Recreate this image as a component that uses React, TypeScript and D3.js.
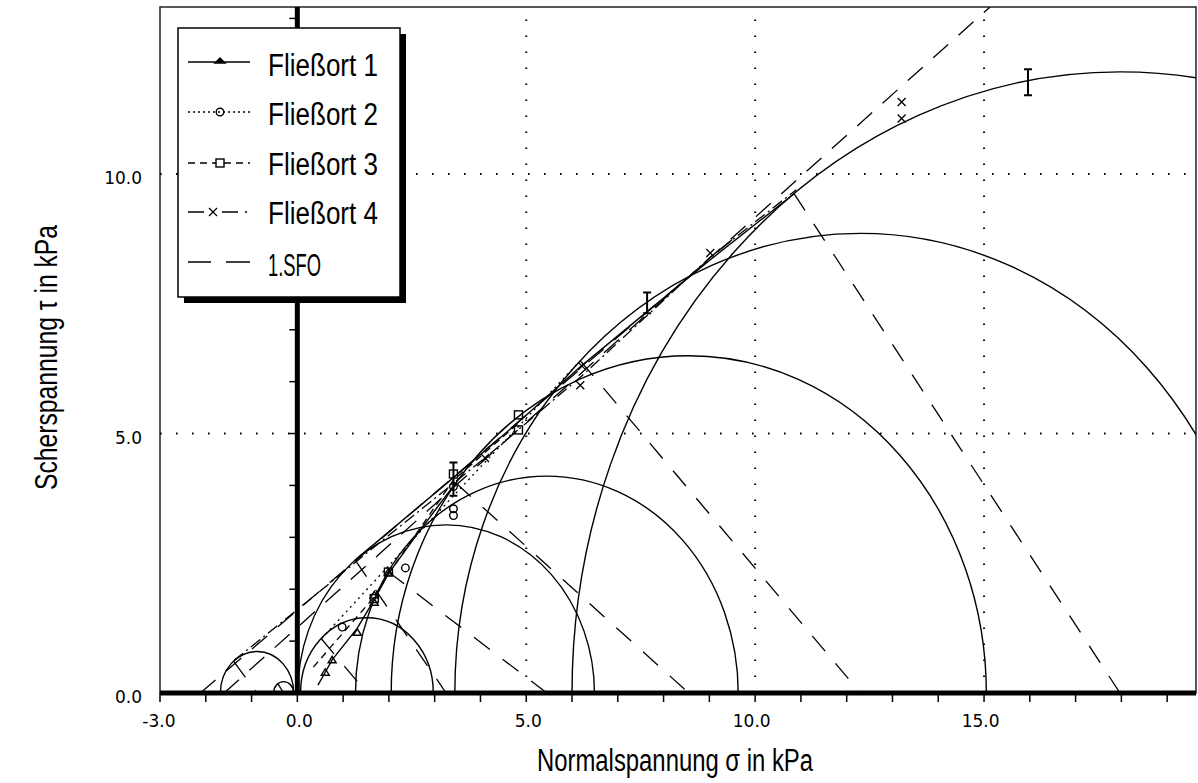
import React from 'react';
import * as d3 from 'd3';

const W = 1198;
const H = 783;

// axis ticks
const xTickValues = [-3, 0, 5, 10, 15];
const xTickLabels = ['-3.0', '0.0', '5.0', '10.0', '15.0'];
const yTickValues = [0, 5, 10];
const yTickLabels = ['0.0', '5.0', '10.0'];
const xGridValues = [5, 10, 15];
const yGridValues = [5, 10];

// Mohr circles (center sigma, radius) and angle of the radius to the tangent point
const circleCenters = [-0.88, -0.3, 1.52, 3.25, 5.45, 8.55, 12.3, 17.97];
const circleRadii = [0.8, 0.22, 1.45, 3.24, 4.18, 6.5, 8.86, 11.97];
const radiusAngles = [130, 125, 133.6, 127.8, 146, 141.5, 133.7, 126.5];

// Fliessort 1 (solid, triangles)
const fo1Sigma = [0.45, 0.61, 0.76, 1.31, 1.68, 1.99, 2.69, 3.46];
const fo1Tau = [0.15, 0.4, 0.64, 1.25, 1.8, 2.3, 3.15, 4.05];
const fo1UpperSigma = [1.26, 3.41, 4.87, 6.2, 7.64, 9.02, 10.85];
const fo1UpperTau = [2.56, 4.15, 5.25, 6.3, 7.35, 8.35, 9.62];
const fo1MarkSigma = [0.61, 0.76, 1.31, 1.68, 1.68, 1.99];
const fo1MarkTau = [0.4, 0.64, 1.17, 1.75, 1.89, 2.33];
const errSigma = [3.41, 7.64, 15.96];
const errTau = [4.12, 7.52, 11.77];
const errDev = [0.32, 0.2, 0.25];

// Fliessort 2 (dotted, circles)
const fo2Sigma = [0.53, 2.36, 3.41, 6.22];
const fo2Tau = [1.05, 2.8, 3.8, 6.44];
const fo2MarkSigma = [0.98, 2.36, 3.41, 3.41, 3.41];
const fo2MarkTau = [1.27, 2.41, 3.42, 3.55, 3.98];

// Fliessort 3 (dashed, squares)
const fo3Sigma = [0.35, 1.68, 1.99, 3.41, 4.83];
const fo3Tau = [0.5, 1.85, 2.3, 4.1, 5.2];
const fo3MarkSigma = [1.68, 1.99, 3.41, 4.83, 4.83];
const fo3MarkTau = [1.82, 2.33, 4.22, 5.07, 5.36];

// Fliessort 4 (dash-dot, crosses)
const fo4Sigma = [-1.39, 0.2, 1.31, 4.1, 6.2, 9.02, 10.9];
const fo4Tau = [0.62, 1.75, 2.55, 4.53, 6.1, 8.4, 9.7];
const fo4MarkSigma = [4.1, 6.18, 6.22, 9.02, 13.2, 13.2];
const fo4MarkTau = [4.53, 5.93, 6.3, 8.48, 11.07, 11.39];

// 1.SFO (long dashes)
const sfoASigma = [-1.6, 15.13];
const sfoATau = [0, 13.22];
const sfoBSigma = [-2.12, 9.5];
const sfoBTau = [0, 8.74];

const legendLabels = ['Fließort 1', 'Fließort 2', 'Fließort 3', 'Fließort 4', '1.SFO'];

const x = d3.scaleLinear().domain([-3, 19.63]).range([160, 1196]);
const y = d3.scaleLinear().domain([0, 13.22]).range([693, 7]);

const line = d3
  .line<[number, number]>()
  .x((d) => x(d[0]))
  .y((d) => y(d[1]));

const zip = (a: number[], b: number[]): [number, number][] => a.map((v, i) => [v, b[i]]);

const titleFont = 'Liberation Sans';
const tickFont = 'DejaVu Sans';

function Triangle({ cx, cy }: { cx: number; cy: number }) {
  return <path d={`M${cx - 4},${cy + 3}L${cx},${cy - 3.5}L${cx + 4},${cy + 3}Z`} fill="none" stroke="#000" strokeWidth={1.4} />;
}
function Square({ cx, cy }: { cx: number; cy: number }) {
  return <rect x={cx - 4} y={cy - 4} width={8} height={8} fill="none" stroke="#000" strokeWidth={1.4} />;
}
function CircleMark({ cx, cy }: { cx: number; cy: number }) {
  return <circle cx={cx} cy={cy} r={3.8} fill="none" stroke="#000" strokeWidth={1.4} />;
}
function Cross({ cx, cy }: { cx: number; cy: number }) {
  return (
    <path d={`M${cx - 4},${cy - 4}L${cx + 4},${cy + 4}M${cx - 4},${cy + 4}L${cx + 4},${cy - 4}`} stroke="#000" strokeWidth={1.3} />
  );
}

export default function App() {
  const x0 = x(-3);
  const x1 = x(19.63);
  const yTop = y(13.22);
  const yBot = y(0);
  const minorX = d3.range(-3, 20);
  const minorY = d3.range(0, 14);

  const legendY = [62, 112, 163, 212, 262];
  const legendTextY = [76, 125, 175, 224, 276];

  return (
    <svg
      width={W}
      height={H}
      style={{ position: 'absolute', left: 0, top: 0, background: '#fff' }}
      xmlns="http://www.w3.org/2000/svg"
    >
      <defs>
        <clipPath id="plot">
          <rect x={x0} y={yTop} width={x1 - x0} height={yBot - yTop} />
        </clipPath>
      </defs>
      <rect x={0} y={0} width={W} height={H} fill="#fff" />

      {/* frame */}
      <rect x={x0} y={yTop} width={x1 - x0} height={yBot - yTop} fill="none" stroke="#222" strokeWidth={1.5} />

      {/* grid */}
      <g stroke="#000" strokeWidth={2} strokeDasharray="1.6 14.4">
        {xGridValues.map((v) => (
          <line key={'gx' + v} x1={x(v)} x2={x(v)} y1={yBot} y2={yTop} />
        ))}
        {yGridValues.map((v) => (
          <line key={'gy' + v} x1={x0} x2={x1} y1={y(v)} y2={y(v)} />
        ))}
      </g>

      <g clipPath="url(#plot)" fill="none" stroke="#000">
        {/* Mohr circles */}
        {circleCenters.map((c, i) => {
          const r = circleRadii[i];
          const rx = x(c + r) - x(c);
          const ry = y(0) - y(r);
          return (
            <path
              key={'c' + i}
              d={`M${x(c - r)},${y(0)}A${rx},${ry} 0 0 1 ${x(c + r)},${y(0)}`}
              strokeWidth={1.4}
            />
          );
        })}
        {/* radius lines to tangent points */}
        {circleCenters.map((c, i) => {
          const r = circleRadii[i];
          const a = (radiusAngles[i] * Math.PI) / 180;
          return (
            <line
              key={'r' + i}
              x1={x(c + r * Math.cos(a))}
              y1={y(r * Math.sin(a))}
              x2={x(c)}
              y2={y(0)}
              strokeWidth={1.3}
              strokeDasharray="20 16"
            />
          );
        })}
        {/* SFO */}
        <path d={line(zip(sfoASigma, sfoATau)) || ''} strokeWidth={1.3} strokeDasharray="20 14" />
        <path d={line(zip(sfoBSigma, sfoBTau)) || ''} strokeWidth={1.3} strokeDasharray="20 14" />
        {/* yield loci */}
        <path d={line(zip(fo1Sigma, fo1Tau)) || ''} strokeWidth={1.4} />
        <path d={line(zip(fo1UpperSigma, fo1UpperTau)) || ''} strokeWidth={1.4} />
        <path d={line(zip(fo2Sigma, fo2Tau)) || ''} strokeWidth={1.3} strokeDasharray="2 4" />
        <path d={line(zip(fo3Sigma, fo3Tau)) || ''} strokeWidth={1.3} strokeDasharray="7 5" />
        <path d={line(zip(fo4Sigma, fo4Tau)) || ''} strokeWidth={1.3} strokeDasharray="12 4 2 4" />

        {/* markers */}
        {fo1MarkSigma.map((s, i) => (
          <Triangle key={'m1' + i} cx={x(s)} cy={y(fo1MarkTau[i])} />
        ))}
        {fo2MarkSigma.map((s, i) => (
          <CircleMark key={'m2' + i} cx={x(s)} cy={y(fo2MarkTau[i])} />
        ))}
        {fo3MarkSigma.map((s, i) => (
          <Square key={'m3' + i} cx={x(s)} cy={y(fo3MarkTau[i])} />
        ))}
        {fo4MarkSigma.map((s, i) => (
          <Cross key={'m4' + i} cx={x(s)} cy={y(fo4MarkTau[i])} />
        ))}
        {errSigma.map((s, i) => {
          const cx = x(s);
          const t = y(errTau[i] + errDev[i]);
          const b = y(errTau[i] - errDev[i]);
          return (
            <path
              key={'e' + i}
              d={`M${cx},${t}L${cx},${b}M${cx - 4},${t}L${cx + 4},${t}M${cx - 4},${b}L${cx + 4},${b}`}
              strokeWidth={2}
            />
          );
        })}
      </g>

      {/* axes */}
      <line x1={x0} x2={x1} y1={yBot} y2={yBot} stroke="#000" strokeWidth={5} />
      <line x1={x(0)} x2={x(0)} y1={yTop} y2={yBot} stroke="#000" strokeWidth={5} />
      <g stroke="#000" strokeWidth={1.5}>
        {minorX.map((v) => (
          <line key={'tx' + v} x1={x(v)} x2={x(v)} y1={yBot} y2={yBot + 9} />
        ))}
        {minorY.map((v) => (
          <line key={'ty' + v} x1={x(0) - 8} x2={x(0)} y1={y(v)} y2={y(v)} />
        ))}
      </g>

      {/* tick labels */}
      <g fontFamily={tickFont} fontSize={17} fill="#000">
        {xTickValues.map((v, i) => (
          <text key={'xl' + v} x={x(v) + 15.5} y={727} textAnchor="end">
            {xTickLabels[i]}
          </text>
        ))}
        {yTickValues.map((v, i) => (
          <text key={'yl' + v} x={142} y={y(v) + 10} textAnchor="end">
            {yTickLabels[i]}
          </text>
        ))}
      </g>

      {/* axis titles */}
      <text
        x={537}
        y={771}
        fontFamily={titleFont}
        fontSize={31}
        textLength={276}
        lengthAdjust="spacingAndGlyphs"
        fill="#000"
      >
        Normalspannung σ in kPa
      </text>
      <text
        transform="translate(57,490) rotate(-90)"
        x={0}
        y={0}
        fontFamily={titleFont}
        fontSize={31}
        textLength={265}
        lengthAdjust="spacingAndGlyphs"
        fill="#000"
      >
        Scherspannung τ in kPa
      </text>

      {/* legend */}
      <rect x={184} y={34} width={222} height={269} fill="#000" />
      <rect x={178} y={28} width={222} height={269} fill="#fff" stroke="#000" strokeWidth={1.5} />
      <g stroke="#000" fill="none" strokeWidth={1.4}>
        <line x1={188} x2={250} y1={legendY[0]} y2={legendY[0]} />
        <path d={`M${215},${legendY[0] + 1}L${220},${legendY[0] - 4}L${225},${legendY[0] + 1}Z`} fill="#000" />
        <line x1={188} x2={250} y1={legendY[1]} y2={legendY[1]} strokeDasharray="2 3" />
        <CircleMark cx={220} cy={legendY[1]} />
        <line x1={188} x2={250} y1={legendY[2]} y2={legendY[2]} strokeDasharray="7 5" />
        <rect x={216} y={legendY[2] - 4} width={8} height={8} fill="#fff" />
        <path d={`M188,${legendY[3]}L204,${legendY[3]}M222,${legendY[3]}L238,${legendY[3]}M245,${legendY[3]}L247,${legendY[3]}`} />
        <Cross cx={213} cy={legendY[3]} />
        <path d={`M188,${legendY[4]}L211,${legendY[4]}M226,${legendY[4]}L250,${legendY[4]}`} />
      </g>
      <g fontFamily={titleFont} fontSize={31} fill="#000">
        {legendLabels.map((t, i) => (
          <text
            key={'lg' + i}
            x={268}
            y={legendTextY[i]}
            textLength={i === 4 ? 53 : 110}
            lengthAdjust="spacingAndGlyphs"
          >
            {t}
          </text>
        ))}
      </g>
    </svg>
  );
}
